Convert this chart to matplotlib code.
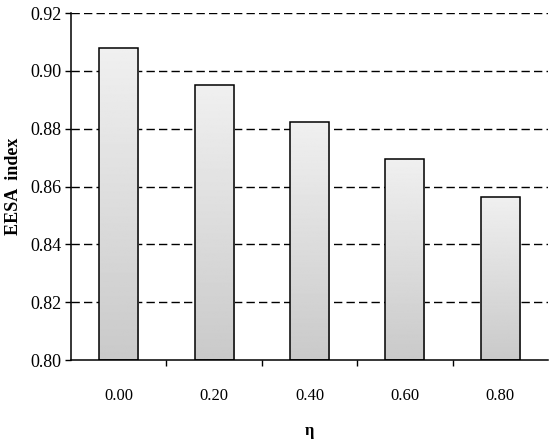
import numpy as np
import matplotlib.pyplot as plt
from matplotlib.ticker import FixedLocator

eta_labels = ['0.00', '0.20', '0.40', '0.60', '0.80']
eesa = [0.9078, 0.8951, 0.8823, 0.8695, 0.8564]
y_ticks = [0.80, 0.82, 0.84, 0.86, 0.88, 0.90, 0.92]

plt.rcParams['font.family'] = ['Liberation Serif', 'DejaVu Serif']

fig = plt.figure(figsize=(5.5, 4.43), dpi=100)
ax = fig.add_axes([71 / 550, 83 / 443, 477 / 550, 347 / 443])

x = np.arange(len(eesa))
bars = ax.bar(x, np.array(eesa) - 0.80, bottom=0.80, width=0.41,
              facecolor='none', edgecolor='black', linewidth=1.1, zorder=3)

# vertical grey gradient inside each bar
grad = np.linspace(0.94, 0.79, 256).reshape(-1, 1)
for b in bars:
    x0, y0 = b.get_x(), b.get_y()
    w, h = b.get_width(), b.get_height()
    im = ax.imshow(grad, cmap='gray', vmin=0, vmax=1, aspect='auto',
                   extent=[x0, x0 + w, y0, y0 + h], origin='upper', zorder=2)
    im.set_clip_path(b)

ax.set_xlim(-0.5, len(eesa) - 0.5)
ax.set_ylim(0.80, 0.92)
ax.set_yticks(y_ticks)
ax.set_yticklabels(['%.2f' % v for v in y_ticks])
ax.set_xticks(x)
ax.set_xticklabels(eta_labels)
ax.xaxis.set_minor_locator(FixedLocator(np.arange(0.5, len(eesa) - 0.5, 1)))
ax.tick_params(axis='x', which='major', length=0, pad=20, labelsize=12)
ax.tick_params(axis='x', which='minor', length=4, direction='out', width=1)
ax.tick_params(axis='y', length=4, direction='out', width=1, labelsize=13, pad=3)

for v in y_ticks[1:]:
    ax.axhline(v, color='black', linestyle=(0, (6, 3)), linewidth=1, zorder=1)

ax.spines['top'].set_visible(False)
ax.spines['right'].set_visible(False)
ax.spines['left'].set_linewidth(1.1)
ax.spines['bottom'].set_linewidth(1.1)

ax.set_ylabel('EESA  index', fontsize=13, fontweight='bold', labelpad=6)
ax.set_xlabel('η', fontsize=12, fontweight='bold', labelpad=14)

fig.savefig('out.png', dpi=100)
